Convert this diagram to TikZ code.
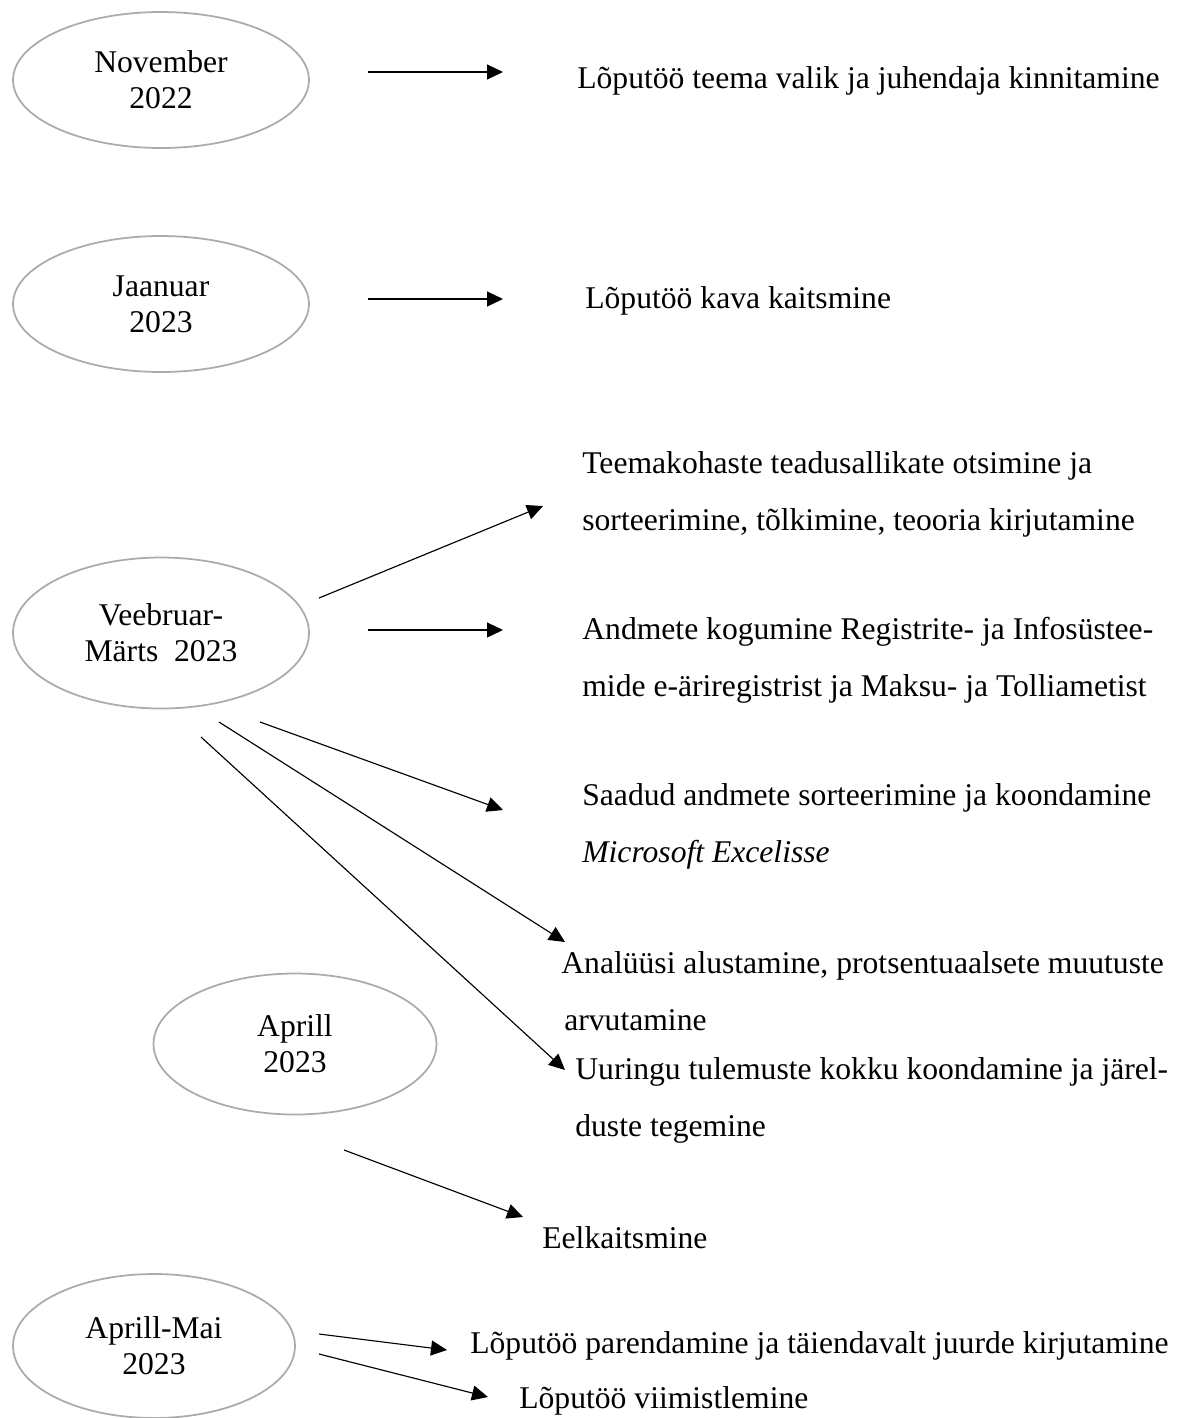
\documentclass[tikz,border=0pt]{standalone}
\usepackage{fontspec}
\setmainfont{Liberation Serif}
\usetikzlibrary{arrows.meta, shapes.geometric}

\begin{document}
\begin{tikzpicture}[x=0.02cm, y=-0.02cm, font=\fontsize{18}{20.5}\selectfont,
  month/.style={draw=black!33, line width=1pt, ellipse, inner sep=0, align=center, minimum width=5.92cm, minimum height=2.72cm},
  task/.style={anchor=west, inner sep=0, align=left, font=\fontsize{18}{32.4}\selectfont},
  arr/.style={line width=0.65pt, -{Triangle[length=0.32cm, width=0.3cm]}}]

\useasboundingbox (0, 0) rectangle (1180, 1418);

% kuud
\node[month] (nov) at (161, 80) {November\\2022};
\node[month] (jan) at (161, 304) {Jaanuar\\2023};
\node[month, minimum height=3.02cm] (feb) at (161, 633) {Veebruar-\\Märts\ \ 2023};
\node[month, minimum width=5.66cm, minimum height=2.82cm] (apr) at (295, 1044) {Aprill\\2023};
\node[month, minimum width=5.64cm, minimum height=2.88cm] (may) at (154, 1346) {Aprill-Mai\\2023};

% tegevused
\node[task] (t1) at (577, 81) {Lõputöö teema valik ja juhendaja kinnitamine};
\node[task] (t2) at (585, 301) {Lõputöö kava kaitsmine};
\node[task] (t3) at (582, 494) {Teemakohaste teadusallikate otsimine ja\\sorteerimine, tõlkimine, teooria kirjutamine};
\node[task] (t4) at (582, 660) {Andmete kogumine Registrite- ja Infosüstee-\\mide e-äriregistrist ja Maksu- ja Tolliametist};
\node[task] (t5) at (582, 826) {Saadud andmete sorteerimine ja koondamine\\\textit{Microsoft Excelisse}};
\node[task] (t6) at (561, 991) {Analüüsi alustamine, protsentuaalsete muutuste\\\hspace*{0.06cm}arvutamine};
\node[task] (t7) at (575, 1100) {Uuringu tulemuste kokku koondamine ja järel-\\duste tegemine};
\node[task] (t8) at (542, 1238) {Eelkaitsmine};
\node[task] (t9) at (470, 1346) {Lõputöö parendamine ja täiendavalt juurde kirjutamine};
\node[task] (t10) at (519, 1401) {Lõputöö viimistlemine};

% noolte otsad
\coordinate (nov-o) at (368, 72);   \coordinate (t1-i) at (503, 72);
\coordinate (jan-o) at (368, 299);  \coordinate (t2-i) at (503, 299);
\coordinate (feb-o3) at (319, 598); \coordinate (t3-i) at (543, 506);
\coordinate (feb-o4) at (368, 630); \coordinate (t4-i) at (503, 630);
\coordinate (feb-o5) at (260, 722); \coordinate (t5-i) at (503, 810);
\coordinate (feb-o6) at (219, 722); \coordinate (t6-i) at (565, 942);
\coordinate (feb-o7) at (201, 737); \coordinate (t7-i) at (565, 1070);
\coordinate (apr-o) at (344, 1150); \coordinate (t8-i) at (523, 1217);
\coordinate (may-o9) at (319, 1334); \coordinate (t9-i) at (447, 1350);
\coordinate (may-o10) at (319, 1354); \coordinate (t10-i) at (488, 1397);

% nooled
\draw[arr] (nov-o) -- (t1-i);
\draw[arr] (jan-o) -- (t2-i);
\draw[arr] (feb-o3) -- (t3-i);
\draw[arr] (feb-o4) -- (t4-i);
\draw[arr] (feb-o5) -- (t5-i);
\draw[arr] (feb-o6) -- (t6-i);
\draw[arr] (feb-o7) -- (t7-i);
\draw[arr] (apr-o) -- (t8-i);
\draw[arr] (may-o9) -- (t9-i);
\draw[arr] (may-o10) -- (t10-i);

\end{tikzpicture}
\end{document}
